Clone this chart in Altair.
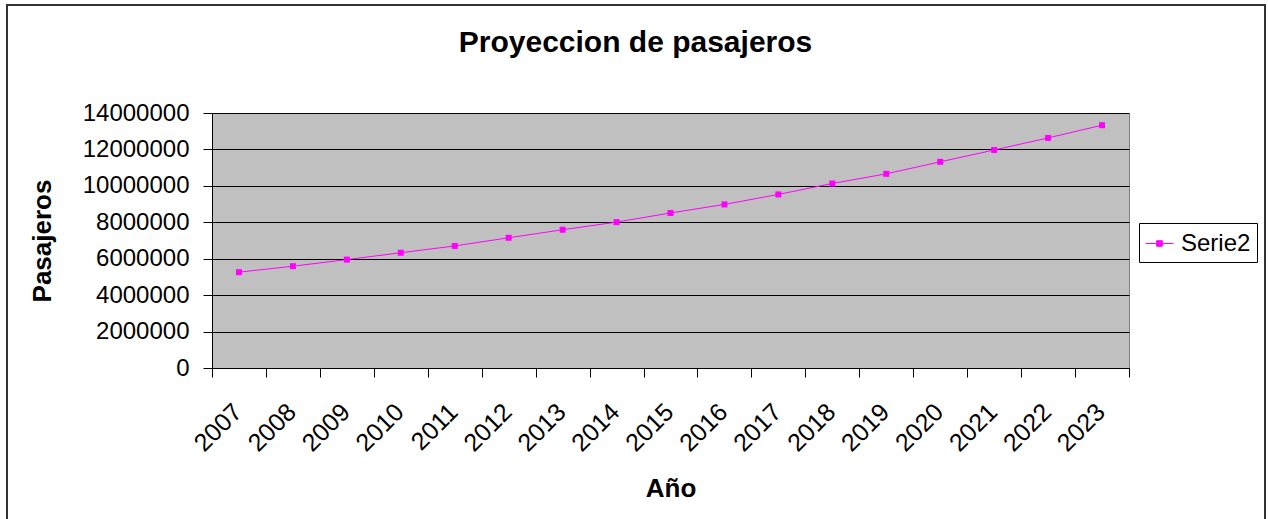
import altair as alt
import pandas as pd

anios = [str(y) for y in range(2007, 2024)]
pasajeros = [5260000, 5590000, 5950000, 6330000, 6700000, 7150000, 7590000,
             8010000, 8510000, 8980000, 9530000, 10130000, 10660000, 11320000,
             11970000, 12630000, 13330000]
serie = ["Serie2"] * len(anios)
y_ticks = [0, 2000000, 4000000, 6000000, 8000000, 10000000, 12000000, 14000000]

df = pd.DataFrame({"anio": anios, "pasajeros": pasajeros, "serie": serie})

FONT = "Liberation Sans"
MAG = "#FF00FF"

x_enc = alt.X(
    "anio:O",
    title="Año",
    bandPosition=0.5,
    scale=alt.Scale(type="band", paddingInner=0, paddingOuter=0),
    axis=alt.Axis(
        tickBand="extent",
        labelAngle=-45,
        labelAlign="right",
        labelBaseline="top",
        labelOffset=-10,
        labelPadding=22,
        labelFontSize=25,
        labelFont=FONT,
        labelColor="black",
        labelOverlap=False,
        labelBound=False,
        tickSize=9,
        tickColor="black",
        domainColor="black",
        grid=False,
        titleFont=FONT,
        titleFontSize=26,
        titleFontWeight="bold",
        titleColor="black",
        titleY=128,
        titleBaseline="alphabetic",
    ),
)

y_enc = alt.Y(
    "pasajeros:Q",
    title="Pasajeros",
    scale=alt.Scale(domain=[0, 14000000], nice=False, zero=True),
    axis=alt.Axis(
        values=y_ticks,
        format="d",
        labelFontSize=24,
        labelFont=FONT,
        labelColor="black",
        labelPadding=14,
        tickSize=9,
        tickColor="black",
        domainColor="black",
        grid=True,
        gridColor="black",
        gridOpacity=1,
        gridWidth=1,
        titleFont=FONT,
        titleFontSize=26,
        titleFontWeight="bold",
        titleColor="black",
        titleAngle=270,
        titleX=-162,
        titleY=127.5,
        titleBaseline="alphabetic",
        titleAlign="center",
    ),
)

color_enc = alt.Color(
    "serie:N",
    scale=alt.Scale(domain=["Serie2"], range=[MAG]),
    legend=alt.Legend(
        title=None,
        orient="none",
        legendX=927,
        legendY=110,
        padding=6,
        strokeColor="black",
        fillColor="white",
        symbolType="M-1,0H1M-0.2,-0.2H0.2V0.2H-0.2Z",
        symbolSize=784,
        symbolStrokeWidth=1,
        symbolFillColor=MAG,
        symbolStrokeColor=MAG,
        labelFontSize=24,
        labelFont=FONT,
        labelColor="black",
        labelOffset=7,
    ),
)

base = alt.Chart(df).encode(x=x_enc, y=y_enc, color=color_enc)
line = base.mark_line(strokeWidth=1)
points = base.mark_point(shape="square", filled=True, size=36, opacity=1)

frame = alt.Chart(pd.DataFrame({"a": [0]})).mark_rect(
    fillOpacity=0, stroke="#333333", strokeWidth=2
).encode(
    x=alt.value(-205), x2=alt.value(1053), y=alt.value(-108), y2=alt.value(420)
)

chart = (
    alt.layer(line, points, frame)
    .properties(
        width=917,
        height=255,
        background="white",
        autosize=alt.AutoSizeParams(type="none"),
        padding={"left": 212, "top": 113, "right": 139, "bottom": 151},
        title=alt.TitleParams(
            "Proyeccion de pasajeros",
            font=FONT,
            fontSize=30,
            fontWeight="bold",
            color="black",
            anchor="middle",
            frame="group",
            baseline="alphabetic",
            offset=0,
            dy=78,
            dx=-35,
        ),
    )
    .configure_view(fill="#C0C0C0", stroke="#808080", strokeWidth=1)
)

chart.save("out.html", embed_options={"renderer": "svg", "actions": False})
